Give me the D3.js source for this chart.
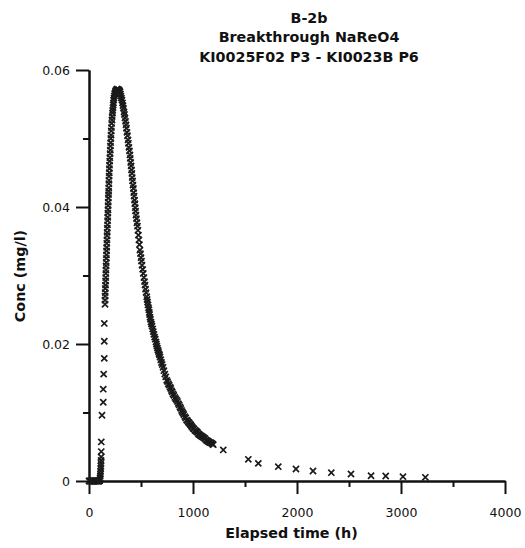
<!DOCTYPE html>
<html>
<head>
<meta charset="utf-8">
<script src="https://cdn.jsdelivr.net/npm/d3@7"></script>
<style>
	body { margin: 0; background: #fff; }
	svg { display: block; }
	.axis path, .axis line { stroke: #111; stroke-width: 2; }
	.axis text { font-family: "DejaVu Sans", sans-serif; font-size: 12.5px; fill: #111; }
	.title, .label { font-family: "DejaVu Sans", sans-serif; font-weight: bold; font-size: 14.3px; fill: #111; }
</style>
</head>
<body>
<script>
/* Breakthrough curve, B-2b. */

var titleLines = ["B-2b", "Breakthrough NaReO4", "KI0025F02 P3 - KI0023B P6"];
var xTicks = [0, 1000, 2000, 3000, 4000];
var xMinor = [500, 1500, 2500, 3500];
var yTicks = [0, 0.02, 0.04, 0.06];
var yMinor = [0.01, 0.03, 0.05];

// [elapsed time (h), conc (mg/l)]
var baseline = [[0,0],[6,0],[12,0],[18,0],[24,0],[30,0],[36,0],[42,0],[48,0],[54,0],[60,0],
	[66,0],[72,0],[78,0],[84,0],[90,0],[96,0],[100,0],[104,0.0001]];
var riseFoot = [[106,0.0004],[108,0.0007],[110,0.0010],[111,0.0014],[113,0.0018],[114,0.0022],
	[115,0.0026],[116,0.0030],[117,0.0035]];
var riseSparse = [[118,0.0043],[118,0.0057],[125,0.0096],[137,0.0115],[137,0.0134],[141,0.0156],
	[147,0.0179],[147,0.0204],[147,0.0230],[154,0.0258]];
var riseDense = [[154,0.0264],[155,0.0270],[156,0.0275],[157,0.0281],[159,0.0286],[160,0.0292],
	[161,0.0297],[162,0.0303],[163,0.0308],[164,0.0314],[166,0.0319],[167,0.0325],[168,0.0330],
	[169,0.0336],[170,0.0341],[171,0.0347],[173,0.0352],[174,0.0358],[175,0.0363],[176,0.0369],
	[178,0.0374],[179,0.0380],[180,0.0385],[181,0.0391],[183,0.0396],[184,0.0402],[185,0.0407],
	[186,0.0413],[188,0.0418],[189,0.0423],[190,0.0428],[191,0.0434],[192,0.0439],[193,0.0445],
	[195,0.0450],[196,0.0456],[197,0.0461],[199,0.0467],[201,0.0472],[203,0.0478],[205,0.0483],
	[206,0.0489],[208,0.0494],[210,0.0500],[212,0.0505],[214,0.0511],[216,0.0516],[218,0.0522],
	[221,0.0527],[223,0.0532],[226,0.0537],[228,0.0541],[231,0.0545],[233,0.0549],[235,0.0552],
	[237,0.0556],[240,0.0559],[243,0.0562],[247,0.0565],[251,0.0567],[255,0.0569],[259,0.0570],
	[264,0.0571],[269,0.0572],[274,0.0572]];
var fall = [[283,0.0571],[287,0.0571],[290,0.0570],[294,0.0569],[298,0.0568],[302,0.0565],
	[307,0.0562],[312,0.0559],[317,0.0556],[322,0.0552],[327,0.0548],[332,0.0544],[337,0.0539],
	[341,0.0535],[346,0.0530],[351,0.0525],[356,0.0520],[360,0.0515],[365,0.0509],[370,0.0504],
	[375,0.0498],[379,0.0493],[384,0.0487],[389,0.0482],[394,0.0476],[397,0.0471],[401,0.0465],
	[405,0.0460],[409,0.0454],[412,0.0449],[416,0.0443],[419,0.0438],[423,0.0432],[427,0.0427],
	[430,0.0421],[434,0.0416],[438,0.0410],[441,0.0405],[445,0.0399],[448,0.0394],[452,0.0388],
	[456,0.0383],[461,0.0377],[466,0.0372],[471,0.0366],[475,0.0359],[480,0.0352],[485,0.0345],
	[490,0.0337],[495,0.0332],[500,0.0326],[505,0.0321],[510,0.0315],[516,0.0309],[522,0.0303],
	[528,0.0297],[534,0.0291],[539,0.0286],[544,0.0280],[549,0.0275],[555,0.0269],[559,0.0265],
	[563,0.0261],[567,0.0257],[572,0.0253],[576,0.0250],[580,0.0246],[583,0.0243],[587,0.0239],
	[591,0.0236],[596,0.0232],[601,0.0229],[606,0.0226],[612,0.0222],[618,0.0218],[624,0.0214],
	[631,0.0210],[637,0.0207],[644,0.0203],[648,0.0200],[653,0.0197],[658,0.0194],[663,0.0191],
	[668,0.0189],[673,0.0186],[678,0.0184],[683,0.0181],[690,0.0177],[697,0.0173],[704,0.0170],
	[712,0.0166],[720,0.0161],[729,0.0156],[738,0.0152],[747,0.0147],[755,0.0145],[763,0.0142],
	[771,0.0140],[779,0.0137],[786,0.0135],[793,0.0132],[800,0.0130],[808,0.0127],[816,0.0125],
	[825,0.0122],[834,0.0120],[843,0.0118],[851,0.0116],[859,0.0113],[867,0.0111],[875,0.0108],
	[882,0.0106],[890,0.0103],[897,0.0101],[904,0.0099],[912,0.0097],[921,0.0094],[930,0.0092],
	[939,0.0089],[947,0.0088],[955,0.0086],[963,0.0085],[971,0.0083],[978,0.0082],[985,0.0080],
	[992,0.0079],[1000,0.0077],[1009,0.0076],[1018,0.0074],[1027,0.0073],[1036,0.0072],[1043,0.0071],
	[1051,0.0069],[1059,0.0068],[1067,0.0067],[1076,0.0066],[1086,0.0065],[1096,0.0064],[1106,0.0063],
	[1115,0.0062],[1125,0.0060],[1134,0.0059],[1144,0.0058],[1153,0.0057],[1162,0.0056],[1171,0.0056],
	[1180,0.0055],[1188,0.0054],[1195,0.0053]];
var tail = [[1291,0.00453],[1532,0.00317],[1628,0.00258],[1820,0.00209],[1990,0.00175],
	[2154,0.00146],[2330,0.00121],[2519,0.00102],[2712,0.00077],[2853,0.00073],[3019,0.00063],
	[3234,0.00054]];

var fullWidth = 525, fullHeight = 548;
var margin = {top: 70, right: 20, bottom: 67, left: 89},
	width = 416,
	height = 411;

var xScale = d3.scaleLinear().domain([0, 4000]).range([0, width]);
var yScale = d3.scaleLinear().domain([0, 0.06]).range([height, 0]);

var svg = d3.select("body").append("svg")
	.attr("width", fullWidth)
	.attr("height", fullHeight);

var g = svg.append("g")
	.attr("transform", "translate(" + margin.left + "," + margin.top + ")");

// title
svg.selectAll(".title")
	.data(titleLines)
	.enter().append("text")
		.attr("class", "title")
		.attr("x", 309)
		.attr("y", function(d, i) { return [23, 42, 61.5][i]; })
		.style("text-anchor", "middle")
		.text(function(d) { return d; });

// minor ticks first, majors on top
g.append("g")
	.attr("class", "axis")
	.attr("transform", "translate(0," + height + ")")
	.call(d3.axisBottom(xScale).tickValues(xMinor).tickSize(6).tickSizeOuter(0).tickFormat(""));
g.append("g")
	.attr("class", "axis")
	.call(d3.axisLeft(yScale).tickValues(yMinor).tickSize(6).tickSizeOuter(0).tickFormat(""));

g.append("g")
	.attr("class", "axis")
	.attr("transform", "translate(0," + height + ")")
	.call(d3.axisBottom(xScale).tickValues(xTicks).tickSize(13).tickSizeOuter(0).tickPadding(14)
		.tickFormat(d3.format("d")));
g.append("g")
	.attr("class", "axis")
	.call(d3.axisLeft(yScale).tickValues(yTicks).tickSize(13).tickSizeOuter(0).tickPadding(6)
		.tickFormat(function(d) { return d === 0 ? "0" : d3.format(".2f")(d); }));

// axis labels
svg.append("text")
	.attr("class", "label")
	.attr("x", 291.5)
	.attr("y", 538)
	.style("text-anchor", "middle")
	.text("Elapsed time (h)");
svg.append("text")
	.attr("class", "label")
	.attr("transform", "translate(24.5,276) rotate(-90)")
	.style("text-anchor", "middle")
	.text("Conc (mg/l)");

// points
var data = [].concat(baseline, riseFoot, riseSparse, riseDense, fall, tail);
var cross = d3.symbol().type(d3.symbolX).size(26);

g.selectAll(".dot")
	.data(data)
	.enter().append("path")
		.attr("class", "dot")
		.attr("d", cross)
		.attr("transform", function(d) {
			return "translate(" + xScale(d[0]) + "," + yScale(d[1]) + ")";
		})
		.style("fill", "none")
		.style("stroke", "#1a1a1a")
		.style("stroke-width", 1.7);
</script>
</body>
</html>
